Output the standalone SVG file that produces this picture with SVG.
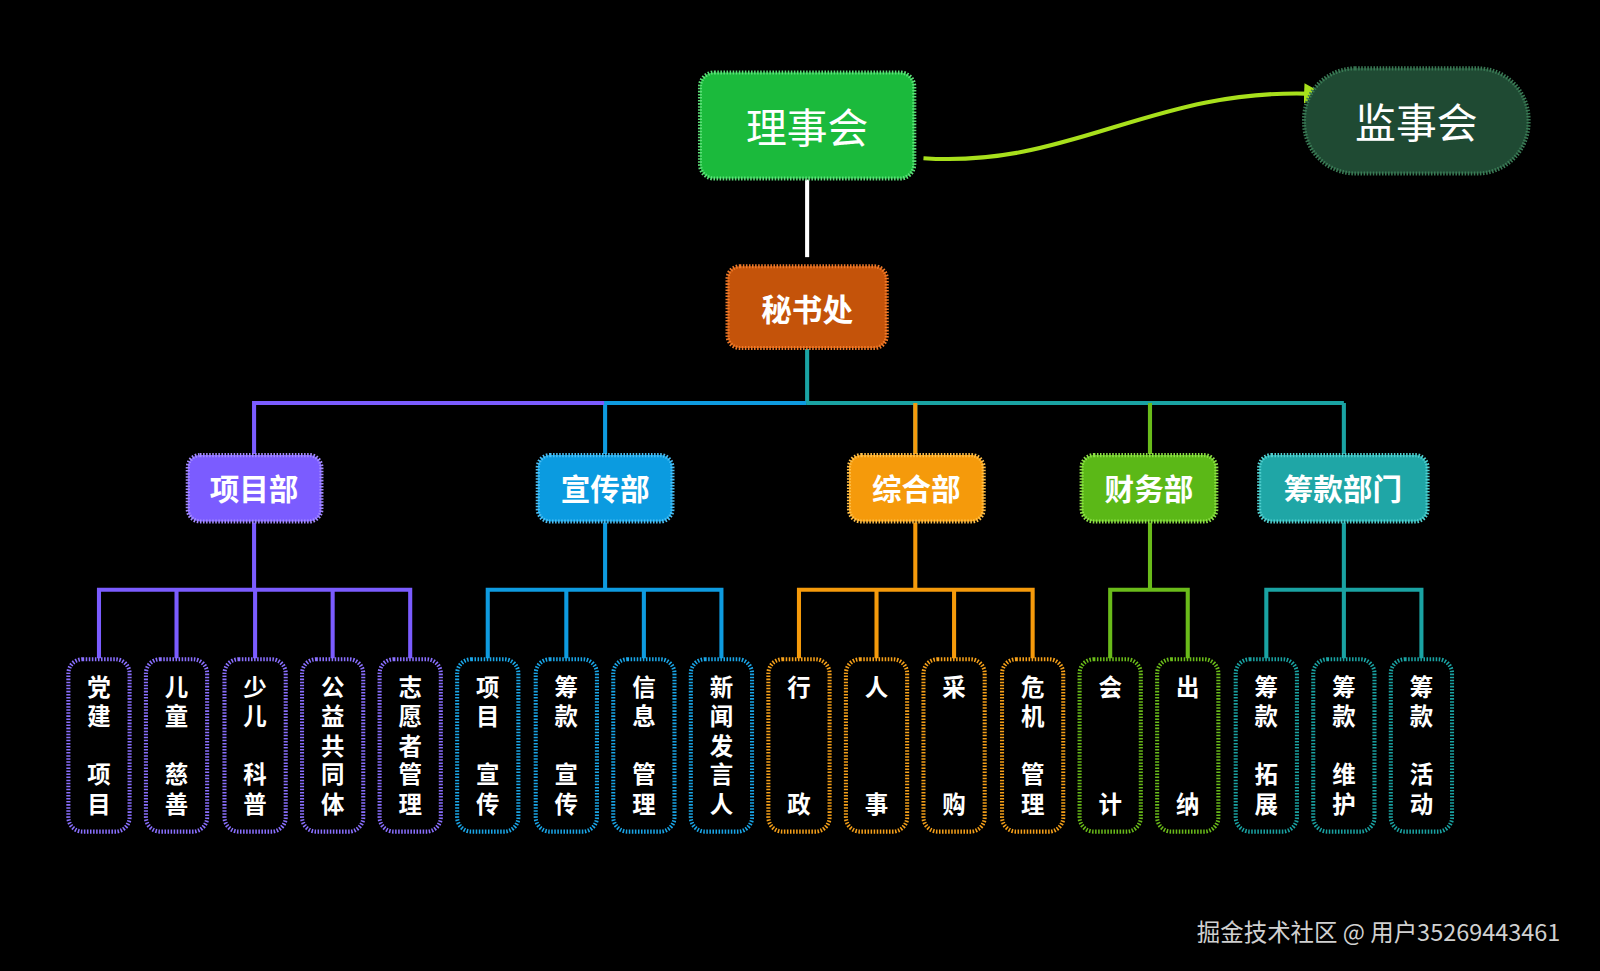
<svg xmlns="http://www.w3.org/2000/svg" width="1600" height="971" viewBox="0 0 1600 971">
<defs>
<marker id="ah" viewBox="0 0 10 10" refX="6" refY="5" markerWidth="5" markerHeight="5" orient="auto" markerUnits="strokeWidth"><path d="M0,0 L10,5 L0,10 z" fill="#a8e01c"/></marker>
<style>
text{font-family:"Noto Sans CJK SC","Noto Sans",sans-serif;fill:#fff;text-anchor:middle;dominant-baseline:central}
.b{font-weight:bold}
.dept{font-size:29px;font-weight:bold}
.leaf{font-size:23px;font-weight:bold}
.box{stroke-width:4;stroke-dasharray:1.5 1.5}
.ln{fill:none;stroke-width:4}
.p{stroke:#7b5cff}.bl{stroke:#0e9be0}.o{stroke:#f59a0b}.g{stroke:#6abb1a}.t{stroke:#1aa3a3}
</style>
</defs>
<rect width="1600" height="971" fill="#000"/>
<g transform="scale(1.0204)">
<g id="connectors">
<path d="M905,155 C1050,165 1130,85 1290,92" class="ln" stroke="#a8e01c" marker-end="url(#ah)"/>
<path d="M791,176 V252" class="ln" stroke="#fff"/>
<path d="M791,342 V395 M790,395 H1317 M897,395 V445 M1127,395 V445 M1317,395 V445" class="ln t"/>
<path d="M897,395 V445" class="ln o"/>
<path d="M1127,395 V445" class="ln g"/>
<path d="M590,395 H790 M593,395 V445" class="ln bl"/>
<path d="M249,395 H592 M249,393 V445" class="ln p"/>
<path d="M249,512 V578 M97,645 V578 H402 V645 M173,578 V645 M250,578 V645 M326,578 V645" class="ln p"/>
<path d="M593,512 V578 M478,645 V578 H707 V645 M555,578 V645 M631,578 V645" class="ln bl"/>
<path d="M897,512 V578 M783,645 V578 H1012 V645 M859,578 V645 M935,578 V645" class="ln o"/>
<path d="M1127,512 V578 M1088,645 V578 H1164 V645" class="ln g"/>
<path d="M1317,512 V578 M1241,645 V578 H1393 V645 M1317,578 V645" class="ln t"/>
</g>
<g id="lishihui"><rect x="686" y="71" width="210" height="104" rx="14" fill="#1bba3c" stroke="#5ee07a" class="box"/><text x="791" y="123" font-size="40">理事会</text></g>
<g id="jianshihui"><rect x="1278" y="67" width="220" height="103" rx="50" fill="#1f4a33" stroke="#3a7a55" class="box"/><text x="1388" y="118" font-size="40">监事会</text></g>
<g id="mishuchu"><rect x="713" y="261" width="156" height="80" rx="12" fill="#c4530a" stroke="#f07a2a" class="box"/><text x="791" y="301" font-size="30" class="b">秘书处</text></g>
<g id="xiangmubu"><rect x="184" y="446" width="131" height="65" rx="12" fill="#7b5cff" stroke="#a58cff" class="box"/><text x="249" y="478" class="dept">项目部</text></g>
<g id="xuanchuanbu"><rect x="527" y="446" width="132" height="65" rx="12" fill="#0b9be0" stroke="#4cc0f5" class="box"/><text x="593" y="478" class="dept">宣传部</text></g>
<g id="zonghebu"><rect x="832" y="446" width="132" height="65" rx="12" fill="#f59a0b" stroke="#ffc04a" class="box"/><text x="898" y="478" class="dept">综合部</text></g>
<g id="caiwubu"><rect x="1060" y="446" width="132" height="65" rx="12" fill="#5bb817" stroke="#8ee048" class="box"/><text x="1126" y="478" class="dept">财务部</text></g>
<g id="choukuanbumen"><rect x="1234" y="446" width="165" height="65" rx="12" fill="#1fa6a6" stroke="#52d0d0" class="box"/><text x="1316" y="478" class="dept">筹款部门</text></g>
<g id="leaves">
<g fill="none" class="box">
<rect x="67" y="646" width="60" height="169" rx="14" stroke="#8a70ff"/>
<rect x="143" y="646" width="60" height="169" rx="14" stroke="#8a70ff"/>
<rect x="220" y="646" width="60" height="169" rx="14" stroke="#8a70ff"/>
<rect x="296" y="646" width="60" height="169" rx="14" stroke="#8a70ff"/>
<rect x="372" y="646" width="60" height="169" rx="14" stroke="#8a70ff"/>
<rect x="448" y="646" width="60" height="169" rx="14" stroke="#1aa6e8"/>
<rect x="525" y="646" width="60" height="169" rx="14" stroke="#1aa6e8"/>
<rect x="601" y="646" width="60" height="169" rx="14" stroke="#1aa6e8"/>
<rect x="677" y="646" width="60" height="169" rx="14" stroke="#1aa6e8"/>
<rect x="753" y="646" width="60" height="169" rx="14" stroke="#f5a01a"/>
<rect x="829" y="646" width="60" height="169" rx="14" stroke="#f5a01a"/>
<rect x="905" y="646" width="60" height="169" rx="14" stroke="#f5a01a"/>
<rect x="982" y="646" width="60" height="169" rx="14" stroke="#f5a01a"/>
<rect x="1058" y="646" width="60" height="169" rx="14" stroke="#6abb1a"/>
<rect x="1134" y="646" width="60" height="169" rx="14" stroke="#6abb1a"/>
<rect x="1211" y="646" width="60" height="169" rx="14" stroke="#1aa3a3"/>
<rect x="1287" y="646" width="60" height="169" rx="14" stroke="#1aa3a3"/>
<rect x="1363" y="646" width="60" height="169" rx="14" stroke="#1aa3a3"/>
</g>
<g class="leaf">
<text x="97" y="672">党</text><text x="97" y="701">建</text><text x="97" y="758">项</text><text x="97" y="787">目</text>
<text x="173" y="672">儿</text><text x="173" y="701">童</text><text x="173" y="758">慈</text><text x="173" y="787">善</text>
<text x="250" y="672">少</text><text x="250" y="701">儿</text><text x="250" y="758">科</text><text x="250" y="787">普</text>
<text x="326" y="672">公</text><text x="326" y="701">益</text><text x="326" y="730">共</text><text x="326" y="758">同</text><text x="326" y="787">体</text>
<text x="402" y="672">志</text><text x="402" y="701">愿</text><text x="402" y="730">者</text><text x="402" y="758">管</text><text x="402" y="787">理</text>
<text x="478" y="672">项</text><text x="478" y="701">目</text><text x="478" y="758">宣</text><text x="478" y="787">传</text>
<text x="555" y="672">筹</text><text x="555" y="701">款</text><text x="555" y="758">宣</text><text x="555" y="787">传</text>
<text x="631" y="672">信</text><text x="631" y="701">息</text><text x="631" y="758">管</text><text x="631" y="787">理</text>
<text x="707" y="672">新</text><text x="707" y="701">闻</text><text x="707" y="730">发</text><text x="707" y="758">言</text><text x="707" y="787">人</text>
<text x="783" y="672">行</text><text x="783" y="787">政</text>
<text x="859" y="672">人</text><text x="859" y="787">事</text>
<text x="935" y="672">采</text><text x="935" y="787">购</text>
<text x="1012" y="672">危</text><text x="1012" y="701">机</text><text x="1012" y="758">管</text><text x="1012" y="787">理</text>
<text x="1088" y="672">会</text><text x="1088" y="787">计</text>
<text x="1164" y="672">出</text><text x="1164" y="787">纳</text>
<text x="1241" y="672">筹</text><text x="1241" y="701">款</text><text x="1241" y="758">拓</text><text x="1241" y="787">展</text>
<text x="1317" y="672">筹</text><text x="1317" y="701">款</text><text x="1317" y="758">维</text><text x="1317" y="787">护</text>
<text x="1393" y="672">筹</text><text x="1393" y="701">款</text><text x="1393" y="758">活</text><text x="1393" y="787">动</text>
</g>
</g>
<text x="1351" y="912" font-size="23" style="fill:#d0d0d0">掘金技术社区 @ 用户35269443461</text>
</g>
</svg>
